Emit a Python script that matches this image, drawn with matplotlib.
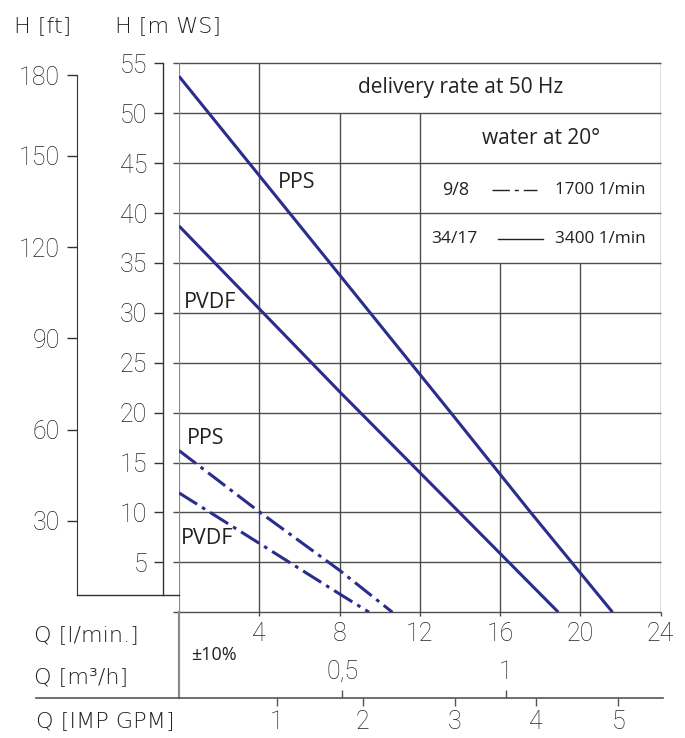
import matplotlib
matplotlib.use("Agg")
import matplotlib.pyplot as plt
from matplotlib.lines import Line2D

FIG_W, FIG_H, DPI = 685, 738, 100

# ---------------- data ----------------
q_ticks = [4, 8, 12, 16, 20, 24]
q_labels = ["4", "8", "12", "16", "20", "24"]
h_ticks = [5, 10, 15, 20, 25, 30, 35, 40, 45, 50, 55]
h_labels = [str(v) for v in h_ticks]
ft_labels = ["30", "60", "90", "120", "150", "180"]
ft_pos_m = [9.14, 18.29, 27.43, 36.58, 45.72, 53.8]
m3h_labels = ["0,5", "1"]
m3h_pos = [8.14, 16.28]
gpm_labels = ["1", "2", "3", "4", "5"]
gpm_pos = [4.87, 9.15, 13.75, 17.8, 21.89]

q_pps_3400 = [0, 8, 13.54, 17.52, 21.6]
h_pps_3400 = [53.7, 33.8, 20, 10, 0]
q_pvdf_3400 = [0, 8, 13.97, 18.9]
h_pvdf_3400 = [38.7, 22.1, 10, 0]
q_pps_1700 = [0, 4, 8, 10.63]
h_pps_1700 = [16.2, 10.06, 4.2, 0]
q_pvdf_1700 = [0, 4, 8, 9.47]
h_pvdf_1700 = [11.96, 6.9, 1.83, 0]

# ---------------- helpers ----------------
def fx(px):
    return px / FIG_W

def fy(py):
    return 1 - py / FIG_H

def pt(px):
    return px * 72.0 / DPI

LBL_FONT = dict(family=["DejaVu Sans"], fontweight="light")
TXT_FONT = dict(family=["Open Sans", "DejaVu Sans"])
INK = "#222222"
GRID = "#4d4d4d"
CURVE = "#2a2d8c"

plt.rcParams["font.family"] = ["Roboto", "DejaVu Sans"]

fig = plt.figure(figsize=(FIG_W / DPI, FIG_H / DPI), dpi=DPI)
fig.patch.set_facecolor("white")

L, R, T, B = 179.0, 660.7, 63.3, 612.2
ax = fig.add_axes([fx(L), fy(B), fx(R) - fx(L), fy(T) - fy(B)])
ax.set_xlim(0, 24)
ax.set_ylim(0, 55)
ax.patch.set_visible(False)
for s in ["top", "right", "bottom"]:
    ax.spines[s].set_visible(False)
ax.spines["left"].set_position(("outward", pt(L - 163)))
ax.spines["left"].set_bounds(1.7, 55)
ax.spines["left"].set_color("#333333")
ax.spines["left"].set_linewidth(1.0)

# grid structure
ax.hlines([0] + h_ticks, -0.28, 24, colors=GRID, linewidth=1.0, clip_on=False, zorder=1)
vgrid = [(4, 55), (8, 50), (12, 50), (16, 35), (20, 35), (24, 55)]
for q, top in vgrid:
    ax.vlines(q, 0, top, colors=GRID, linewidth=1.0, zorder=1)
ax.vlines(0, 0, 55, colors="#8a8a8a", linewidth=1.6, zorder=1)

# axis ticks
ax.set_xticks(q_ticks, q_labels)
ax.tick_params(axis="x", direction="out", length=pt(4), width=1.0, color=GRID,
               pad=4, labelsize=18, labelcolor=INK)
ax.set_yticks(h_ticks, h_labels)
ax.tick_params(axis="y", direction="out", length=pt(9), width=1.0, color="#333333",
               pad=5, labelsize=18, labelcolor=INK)
for lab in ax.get_xticklabels() + ax.get_yticklabels():
    lab.set_fontweight("light")

# ft axis
axf = ax.twinx()
axf.set_ylim(0, 55)
for s in ["top", "right", "bottom"]:
    axf.spines[s].set_visible(False)
axf.spines["left"].set_visible(True)
axf.spines["left"].set_position(("outward", pt(L - 76.7)))
axf.spines["left"].set_bounds(1.7, 53.8)
axf.spines["left"].set_color("#333333")
axf.yaxis.set_ticks_position("left")
axf.set_yticks(ft_pos_m, ft_labels)
axf.tick_params(axis="y", direction="out", length=pt(10), width=1.0, color="#333333",
                pad=5, labelsize=18, labelcolor=INK)
for lab in axf.get_yticklabels():
    lab.set_fontweight("light")

# curves
lw = 2.2
dash = (0, (7.0, 1.9, 1.2, 1.9))
ax.plot(q_pps_3400, h_pps_3400, color=CURVE, lw=lw, solid_capstyle="butt",
        solid_joinstyle="round", zorder=3)
ax.plot(q_pvdf_3400, h_pvdf_3400, color=CURVE, lw=lw, solid_capstyle="butt",
        solid_joinstyle="round", zorder=3)
ax.plot(q_pps_1700, h_pps_1700, color=CURVE, lw=lw, linestyle=dash, zorder=3)
ax.plot(q_pvdf_1700, h_pvdf_1700, color=CURVE, lw=lw, linestyle=dash, zorder=3)

# curve labels
fig.text(fx(296.5), fy(183), "PPS", ha="center", va="center", fontsize=15.5, color=INK, **TXT_FONT)
fig.text(fx(210), fy(302), "PVDF", ha="center", va="center", fontsize=15.5, color=INK, **TXT_FONT)
fig.text(fx(205.5), fy(438.5), "PPS", ha="center", va="center", fontsize=15.5, color=INK, **TXT_FONT)
fig.text(fx(207.5), fy(538.5), "PVDF", ha="center", va="center", fontsize=15.5, color=INK, **TXT_FONT)

# table texts
fig.text(fx(460.5), fy(88), "delivery rate at 50 Hz", ha="center", va="center", fontsize=15, color=INK, **TXT_FONT)
fig.text(fx(541.5), fy(138), "water at 20°", ha="center", va="center", fontsize=15, color=INK, **TXT_FONT)
fig.text(fx(441.7), fy(190), "9/8", ha="left", va="center", fontsize=13, color=INK, **TXT_FONT)
fig.text(fx(555), fy(190), "1700 1/min", ha="left", va="center", fontsize=12.3, color=INK, **TXT_FONT)
fig.text(fx(431), fy(239), "34/17", ha="left", va="center", fontsize=12.5, color=INK, **TXT_FONT)
fig.text(fx(555), fy(239), "3400 1/min", ha="left", va="center", fontsize=12.3, color=INK, **TXT_FONT)
fig.add_artist(Line2D([fx(491.7), fx(537)], [fy(190), fy(190)], color=INK, lw=1.0,
                      linestyle=(0, (12.5, 3.5, 3, 3.5, 12.5, 50))))
fig.add_artist(Line2D([fx(498), fx(543)], [fy(239), fy(239)], color=INK, lw=1.0))

# frame structure lines outside axes
fig.add_artist(Line2D([fx(178.6), fx(178.6)], [fy(B), fy(698)], color="#8a8a8a", lw=1.6))
fig.add_artist(Line2D([fx(36), fx(663)], [fy(698), fy(698)], color="#555555", lw=1.2))
fig.add_artist(Line2D([fx(76.7), fx(179)], [fy(595), fy(595)], color="#333333", lw=1.0))

# bottom secondary scales
axq = fig.add_axes([fx(L), fy(698), fx(R) - fx(L), 0.0005])
axq.set_xlim(0, 24)
axq.patch.set_visible(False)
for s in axq.spines.values():
    s.set_visible(False)
axq.set_yticks([])
axq.set_xticks(gpm_pos, gpm_labels)
axq.tick_params(axis="x", direction="out", length=pt(8), width=1.0, color="#555555",
                pad=3, labelsize=18, labelcolor=INK)
axt = axq.twiny()
axt.set_xlim(0, 24)
for s in axt.spines.values():
    s.set_visible(False)
axt.set_xticks(m3h_pos, m3h_labels)
axt.tick_params(axis="x", direction="out", length=pt(8), width=1.0, color="#555555",
                pad=4, labelsize=18, labelcolor=INK)
for lab in axq.get_xticklabels() + axt.get_xticklabels():
    lab.set_fontweight("light")

# axis titles
fig.text(fx(14), fy(26), "H [ft]", ha="left", va="center", fontsize=16, color=INK, **LBL_FONT)
fig.text(fx(115), fy(26), "H [m WS]", ha="left", va="center", fontsize=16, color=INK, **LBL_FONT)
fig.text(fx(34), fy(635), "Q [l/min.]", ha="left", va="center", fontsize=16, color=INK, **LBL_FONT)
fig.text(fx(34), fy(677), "Q [m³/h]", ha="left", va="center", fontsize=16, color=INK, **LBL_FONT)
fig.text(fx(36), fy(721), "Q [IMP GPM]", ha="left", va="center", fontsize=16, color=INK, **LBL_FONT)
fig.text(fx(190.7), fy(655), "±10%", ha="left", va="center", fontsize=13, color=INK,
         family=["Open Sans", "DejaVu Sans"])

fig.savefig("out.png", dpi=DPI, facecolor="white")
